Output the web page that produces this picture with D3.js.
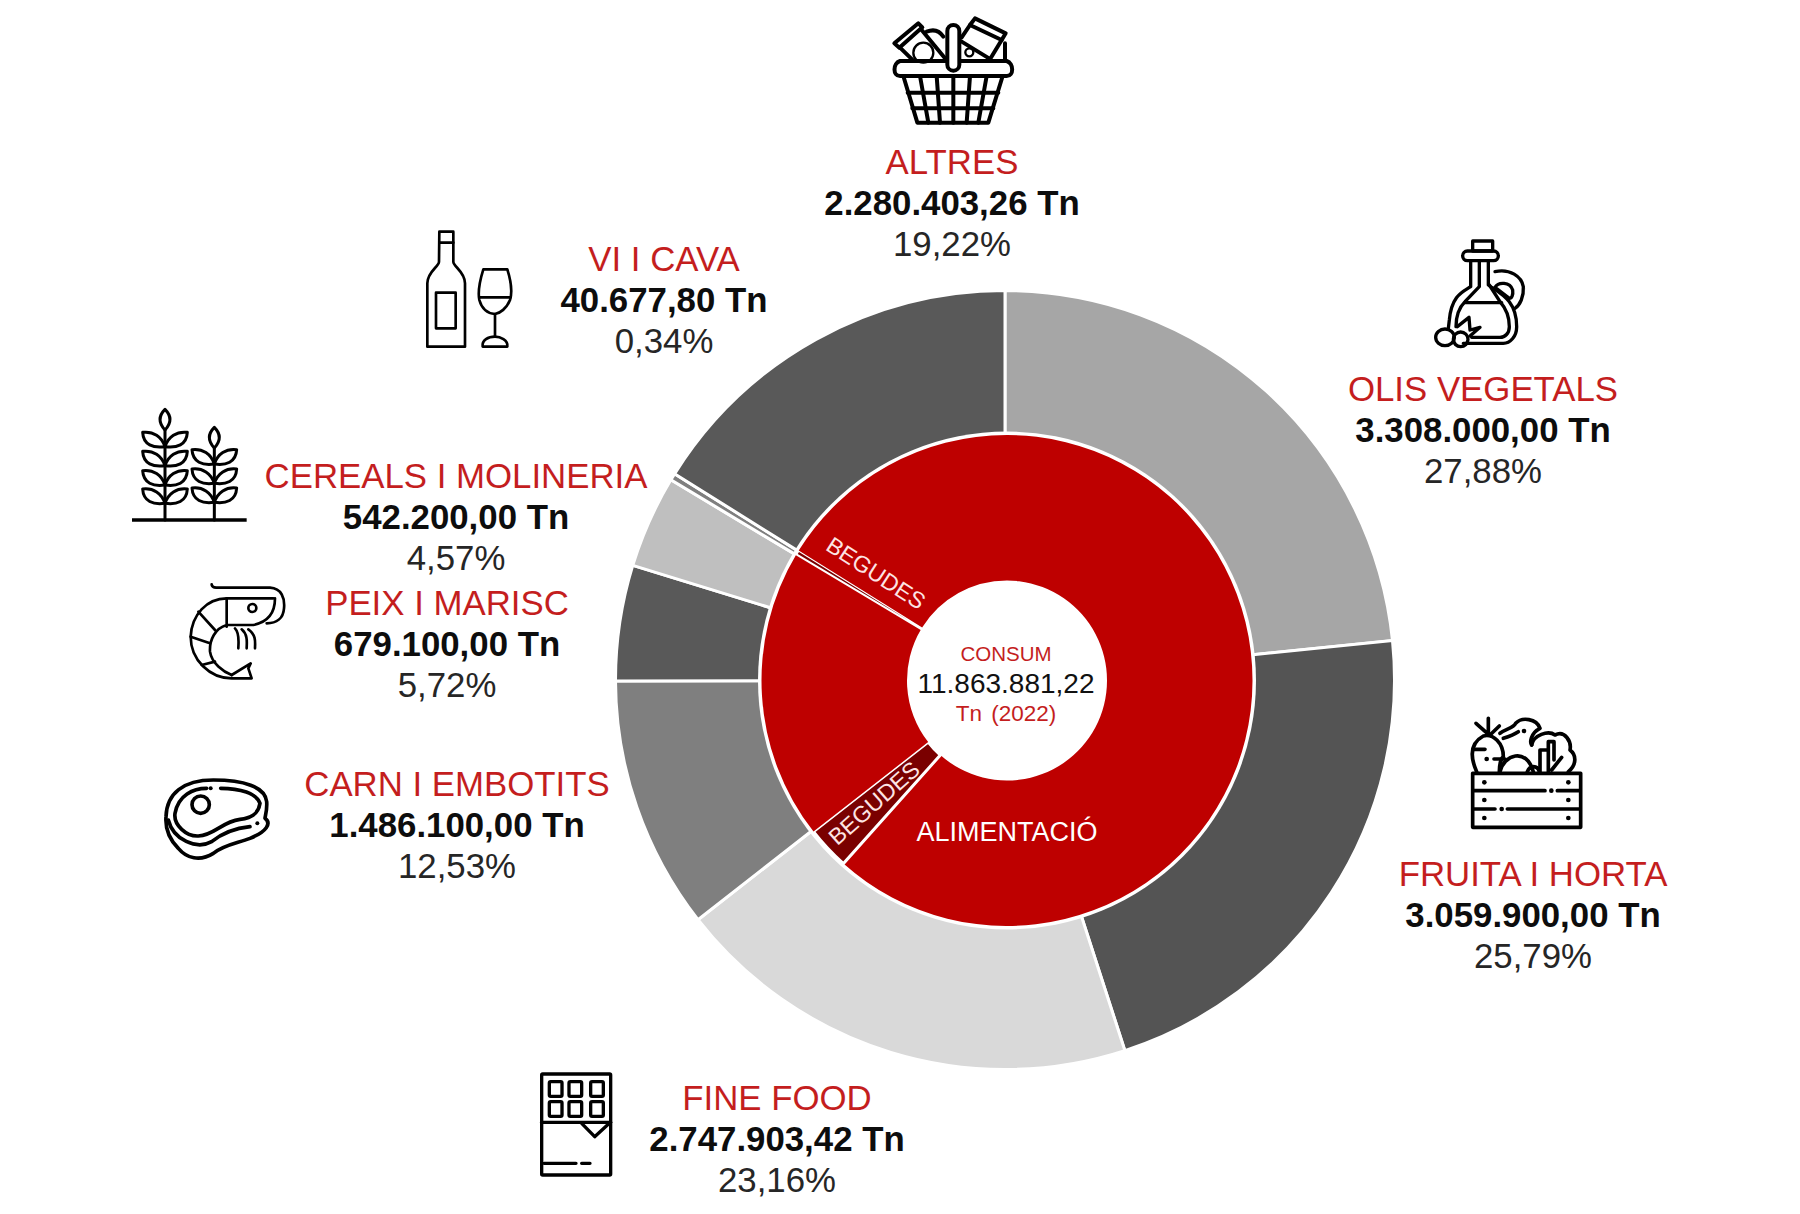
<!DOCTYPE html>
<html>
<head>
<meta charset="utf-8">
<script src="https://cdn.jsdelivr.net/npm/d3@7"></script>
<style>
  html, body { margin: 0; padding: 0; background: #fff; }
  text { font-family: "Liberation Sans", Arial, sans-serif; }
  .icon { fill: none; stroke: #000; stroke-linejoin: round; stroke-linecap: round; }
</style>
</head>
<body>
<svg class="chart" width="1800" height="1214"></svg>
<script>
// Outer ring, clockwise from the top
const categories = ["OLIS VEGETALS", "FRUITA I HORTA", "FINE FOOD", "CARN I EMBOTITS", "PEIX I MARISC", "CEREALS I MOLINERIA", "VI I CAVA", "ALTRES"];
const tonnes = [3308000, 3059900, 2747903.42, 1486100, 679100, 542200, 40677.8, 2280403.26];
const percents = [27.88, 25.79, 23.16, 12.53, 5.72, 4.57, 0.34, 19.22];
const outerColors = ["#a6a6a6", "#545454", "#d9d9d9", "#7f7f7f", "#595959", "#bfbfbf", "#7f7f7f", "#595959"];

// Inner ring
const groupNames = ["ALIMENTACIÓ", "BEGUDES", "ALIMENTACIÓ", "BEGUDES", "ALIMENTACIÓ"];
const groupTonnes = [8714000, 401803.42, 2707400, 40677.8, 2280403.26];
const groupColors = ["#be0000", "#7a0000", "#be0000", "#7a0000", "#be0000"];

const totalLabel = "11.863.881,22";

const outerR = 389.5, midR = 245.5, holeR = 100;
const red = "#c41e1e";

const svg = d3.select(".chart");
const ca = d3.formatLocale({ decimal: ",", thousands: ".", grouping: [3] });
const fmtTn = ca.format(",.2f");
const fmtPct = ca.format(".2f");

const pie = d3.pie().sort(null);

// the two rings are not quite concentric in the original
const outerRing = svg.append("g").attr("transform", "translate(1005,680)");
const innerRing = svg.append("g").attr("transform", "translate(1007,680.5)");

outerRing.selectAll("path")
    .data(pie(tonnes))
    .join("path")
    .attr("d", d3.arc().innerRadius(midR - 20).outerRadius(outerR))
    .style("fill", (d, i) => outerColors[i])
    .style("stroke", "#fff")
    .style("stroke-width", 3);

// white ring between the two donuts
innerRing.append("circle").attr("r", midR + 3.5).style("fill", "#fff");

innerRing.selectAll("path")
    .data(pie(groupTonnes))
    .join("path")
    .attr("d", d3.arc().innerRadius(holeR).outerRadius(midR))
    .style("fill", (d, i) => groupColors[i])
    .style("stroke", (d, i) => groupNames[i] === "BEGUDES" ? "#fff" : "none")
    .style("stroke-width", (d, i) => groupTonnes[i] < 100000 ? 2 : 3);

// Labels for each category (x = centre, y = first baseline)
const labelPos = [
    [1483, 401], [1533, 886], [777, 1110], [457, 796],
    [447, 615], [456, 488], [664, 271], [952, 174]
];

categories.forEach((name, i) => {
    const [x, y] = labelPos[i];
    const g = svg.append("g").attr("text-anchor", "middle").style("font-size", "34.8px");
    g.append("text").attr("x", x).attr("y", y).style("fill", red).text(name);
    g.append("text").attr("x", x).attr("y", y + 41).style("font-weight", "bold").style("fill", "#0d0d0d")
        .text(fmtTn(tonnes[i]) + " Tn");
    g.append("text").attr("x", x).attr("y", y + 82).style("fill", "#262626")
        .text(fmtPct(percents[i]) + "%");
});

// Centre of the donut
const centre = svg.append("g").attr("text-anchor", "middle");
centre.append("text").attr("x", 1006).attr("y", 661).style("font-size", "20.5px").style("fill", red).text("CONSUM");
centre.append("text").attr("x", 1006).attr("y", 693).style("font-size", "28px").style("fill", "#111").text(totalLabel);
centre.append("text").attr("x", 1006).attr("y", 721).style("font-size", "22.5px").style("word-spacing", "3px").style("fill", red).text("Tn (2022)");

// Names on the inner ring
centre.append("text").attr("x", 1007).attr("y", 841).style("font-size", "27px").style("fill", "#fff").text("ALIMENTACIÓ");
centre.append("text").attr("transform", "translate(876,573) rotate(33)").attr("dy", "0.35em")
    .style("font-size", "23px").style("fill", "#fde4e4").text("BEGUDES");
centre.append("text").attr("transform", "translate(874,803) rotate(-41.5)").attr("dy", "0.35em")
    .style("font-size", "23px").style("fill", "#fde4e4").text("BEGUDES");

// Icons, traced in the 3x zoom coordinates and scaled back down
function icon(ox, oy, sw) {
    return svg.append("g").attr("class", "icon")
        .attr("transform", `translate(${ox},${oy}) scale(${1 / 3})`)
        .style("stroke-width", sw);
}
function paths(g, list) {
    list.forEach(d => g.append("path").attr("d", d));
}
function dots(g, list, r) {
    list.forEach(p => g.append("circle").attr("cx", p[0]).attr("cy", p[1]).attr("r", r).style("fill", "#000").style("stroke", "none"));
}

// basket
const basket = icon(860, 0, 12);
paths(basket, [
    "M103 130L175 70L187 82L118 143Z",
    "M120 143L160 182M185 90L255 175",
    "M200 95C225 85 240 95 250 110",
    "M345 55L437 100L425 120L330 75Z",
    "M330 75L305 112M425 120L390 178M305 125L392 178M435 130V178",
    "M120 183H440C462 190 462 228 440 228H120C98 228 98 190 120 183",
    "M130 228L172 368H385L428 228",
    "M180 228L205 368M230 228L240 368M280 228V368M330 228L320 368M380 228L355 368",
    "M143 278H415M157 325H400"
]);
basket.append("circle").attr("cx", 190).attr("cy", 158).attr("r", 30).style("stroke-width", 7);
basket.append("circle").attr("cx", 328).attr("cy", 157).attr("r", 12).style("stroke-width", 7);
basket.append("rect").attr("x", 262).attr("y", 75).attr("width", 36).attr("height", 137).attr("rx", 18).style("fill", "#fff");

// oil bottle
const oil = icon(1420, 230, 10);
oil.append("rect").attr("x", 158).attr("y", 33).attr("width", 60).attr("height", 30);
oil.append("rect").attr("x", 128).attr("y", 63).attr("width", 107).attr("height", 29).attr("rx", 14);
paths(oil, [
    "M152 92V170C130 185 95 195 88 270L85 295",
    "M178 95V170L135 215C115 235 108 265 108 290",
    "M205 92V165C240 190 290 210 290 290C290 320 270 340 250 340H130",
    "M208 165L240 215C262 240 268 265 268 290C268 310 255 322 240 322H155",
    "M135 218H245",
    "M225 125C270 115 305 140 310 170C312 200 300 225 285 235",
    "M225 172C235 155 270 155 278 180C280 195 275 205 268 205Z",
    "M112 290L147 262L150 300M150 300L180 292L150 318"
]);
oil.append("ellipse").attr("cx", 75).attr("cy", 322).attr("rx", 28).attr("ry", 25).style("fill", "#fff");
oil.append("circle").attr("cx", 122).attr("cy", 328).attr("r", 22);

// vegetable crate
const crate = icon(1450, 700, 11);
crate.append("rect").attr("x", 68).attr("y", 220).attr("width", 324).attr("height", 162);
paths(crate, [
    "M72 272H285M322 272H388M72 327H135M172 327H388",
    "M78 70L112 100M115 55V100M148 78L120 105",
    "M80 215C60 170 60 130 100 108C130 100 160 130 160 170C150 180 148 200 148 215",
    "M70 148H105M132 177H165",
    "M150 100C170 85 190 85 197 70C215 50 260 55 270 85C240 100 240 130 245 135",
    "M245 135C250 105 295 90 315 105C345 90 365 125 360 150C380 165 380 195 355 215",
    "M270 215V150H295M295 215V125H312V180M305 210L335 172",
    "M150 215C160 165 230 140 250 215M232 215C240 195 262 195 268 215",
    "M160 115C175 110 190 105 205 95"
]);
dots(crate, [[103, 247], [355, 247], [103, 300], [355, 300], [103, 354], [355, 354], [304, 272], [155, 327], [110, 177], [222, 93]], 7);

// chocolate bar
const choc = icon(520, 1060, 10);
choc.append("rect").attr("x", 65).attr("y", 42).attr("width", 207).attr("height", 303).attr("rx", 3);
paths(choc, ["M65 187H272", "M185 190L224 230L268 190", "M72 310H168M185 310H210"]);
[[88, 65], [147, 65], [212, 65], [88, 125], [147, 125], [212, 125]].forEach(p => {
    choc.append("rect").attr("x", p[0]).attr("y", p[1]).attr("width", 38).attr("height", 44).attr("rx", 4);
});

// steak
const steak = icon(150, 760, 11);
paths(steak, [
    "M48 170C50 100 100 60 190 60C280 60 345 80 350 125C352 150 345 170 345 175C365 190 350 215 300 235C260 250 220 255 190 280C150 305 110 295 85 265C60 240 45 210 48 170Z",
    "M170 85C130 85 85 105 75 160C70 195 110 230 145 228C195 225 215 185 270 178C300 175 325 165 330 130C320 100 270 85 212 85",
    "M300 200C250 205 210 225 185 245C140 270 70 240 55 180"
]);
steak.append("circle").attr("cx", 152).attr("cy", 134).attr("r", 26);
dots(steak, [[182, 85], [322, 190]], 6);

const wine = icon(120, 220, 8);
paths(wine, [
    "M958 35H1000V125C1000 140 1035 155 1035 190V380H922V190C922 155 957 140 957 125Z",
    "M958 68H1000",
    "M948 218H1007V325H948Z",
    "M1090 148H1162C1172 180 1178 215 1170 240C1160 265 1140 280 1125 282C1100 280 1085 265 1078 240C1072 210 1080 180 1090 148Z",
    "M1078 232H1172M1125 282V350",
    "M1088 380H1162C1165 360 1140 350 1125 350C1105 350 1085 360 1088 380Z"
]);

const wheat = icon(120, 220, 9);
wheat.append("path").attr("d", "M36 900H380").style("stroke-width", 10).style("stroke-linecap", "butt");
function wheatStalk(x, tipTop, ys) {
    paths(wheat, [
        `M${x} ${tipTop}C${x - 17} ${tipTop + 17} ${x - 23} ${tipTop + 37} ${x} ${tipTop + 62}C${x + 23} ${tipTop + 37} ${x + 17} ${tipTop + 17} ${x} ${tipTop}Z`,
        `M${x} ${tipTop + 62}V900`
    ]);
    ys.forEach(y => paths(wheat, [
        `M${x} ${y + 25}C${x - 35} ${y + 30} ${x - 65} ${y + 20} ${x - 67} ${y - 18}C${x - 35} ${y - 22} ${x - 10} ${y - 5} ${x} ${y + 25}Z`,
        `M${x} ${y + 25}C${x + 35} ${y + 30} ${x + 65} ${y + 20} ${x + 67} ${y - 18}C${x + 35} ${y - 22} ${x + 10} ${y - 5} ${x} ${y + 25}Z`
    ]));
}
wheatStalk(135, 568, [655, 712, 770, 825]);
wheatStalk(283, 622, [707, 765, 822]);

const shrimp = icon(120, 220, 8);
paths(shrimp, [
    "M275 1093C275 1105 290 1103 310 1103H450C485 1105 495 1135 492 1165C490 1195 470 1210 440 1210",
    "M460 1135H320C260 1135 215 1185 212 1250C212 1320 270 1375 335 1375H395L385 1345L392 1330L335 1365",
    "M320 1135V1220M465 1135C465 1170 450 1205 400 1215H320C285 1225 268 1260 270 1295C275 1330 310 1355 335 1365",
    "M235 1175L285 1230M212 1250L270 1270M245 1335L285 1325",
    "M345 1225C360 1240 355 1270 355 1285M365 1228C385 1245 380 1270 380 1285M385 1228C410 1245 405 1270 405 1285"
]);
shrimp.append("circle").attr("cx", 397).attr("cy", 1164).attr("r", 12);
</script>
</body>
</html>
